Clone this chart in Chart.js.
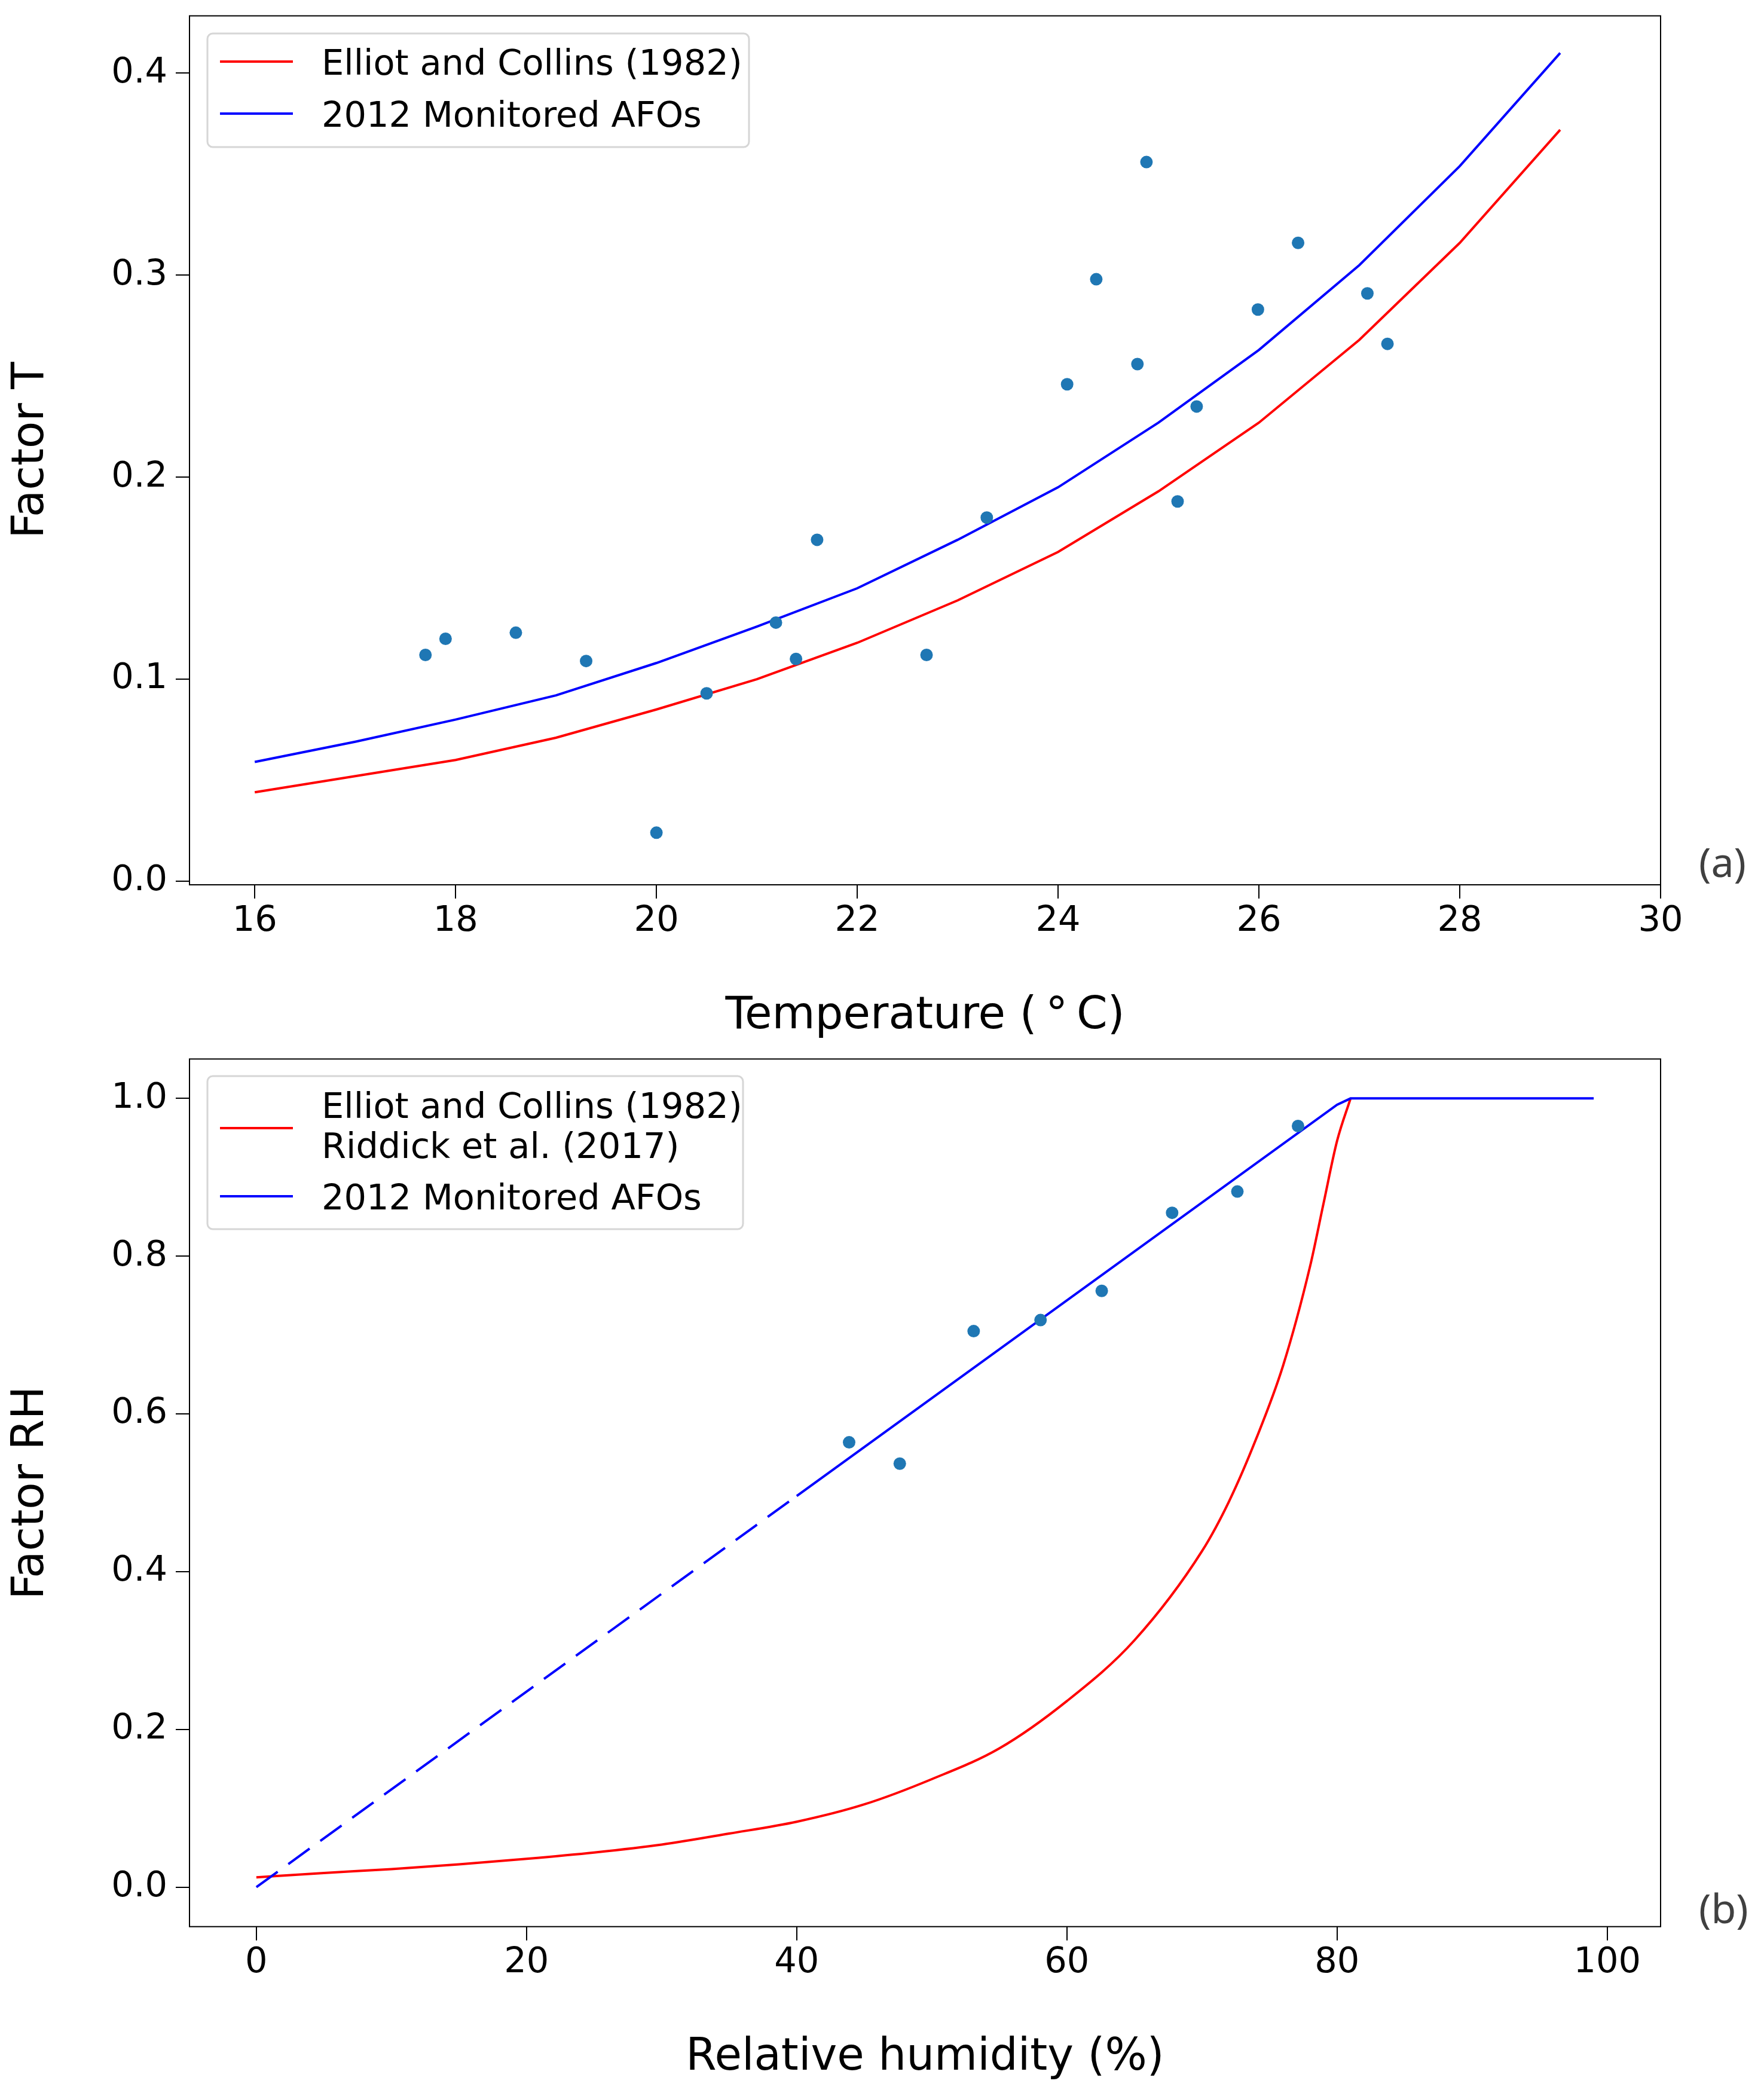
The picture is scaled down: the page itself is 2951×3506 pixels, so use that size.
<!DOCTYPE html>
<html lang="en">
<head>
<meta charset="UTF-8">
<title>Factor T and Factor RH</title>
<script src="https://cdn.jsdelivr.net/npm/chart.js"></script>
<style>
  body { margin: 0; background: #fff; }
  canvas { display: block; }
</style>
</head>
<body>
<canvas id="chartT" width="2951" height="1753"></canvas>
<canvas id="chartRH" width="2951" height="1753"></canvas>
<script>
// (a) temperature factor
const tempC = [16, 17, 18, 19, 20, 21, 22, 23, 24, 25, 26, 27, 28, 29];
const factorTElliot = [0.044, 0.052, 0.060, 0.071, 0.085, 0.100, 0.118, 0.139, 0.163, 0.193, 0.227, 0.268, 0.316, 0.372];
const factorTAFO = [0.059, 0.069, 0.080, 0.092, 0.108, 0.126, 0.145, 0.169, 0.195, 0.227, 0.263, 0.305, 0.354, 0.410];
const obsTemp = [17.70, 17.90, 18.60, 19.30, 20.00, 20.50, 21.19, 21.39, 21.60, 22.69, 23.29, 24.09, 24.38, 24.79, 24.88, 25.19, 25.38, 25.99, 26.39, 27.08, 27.28];
const obsFactorT = [0.112, 0.120, 0.123, 0.109, 0.024, 0.093, 0.128, 0.110, 0.169, 0.112, 0.180, 0.246, 0.298, 0.256, 0.356, 0.188, 0.235, 0.283, 0.316, 0.291, 0.266];
const tempTicks = [16, 18, 20, 22, 24, 26, 28, 30];
const factorTTicks = [0.0, 0.1, 0.2, 0.3, 0.4];

// (b) relative humidity factor
const rhElliot = [0, 5, 10, 15, 20, 25, 30, 35, 40, 45, 50, 55, 60, 65, 70, 72, 74, 76, 78, 79, 80, 81];
const factorRHElliot = [0.0125, 0.018, 0.023, 0.029, 0.036, 0.044, 0.054, 0.068, 0.083, 0.105, 0.137, 0.176, 0.236, 0.313, 0.426, 0.489, 0.568, 0.661, 0.787, 0.867, 0.946, 1.0];
const rhFitExtrap = [0, 40];
const factorRHFitExtrap = [0.0, 0.496];
const rhFit = [40, 80, 81, 99];
const factorRHFit = [0.496, 0.992, 1.0, 1.0];
const obsRH = [43.88, 47.63, 53.10, 58.05, 62.58, 67.79, 72.62, 77.11];
const obsFactorRH = [0.564, 0.537, 0.705, 0.719, 0.756, 0.855, 0.882, 0.965];
const rhTicks = [0, 20, 40, 60, 80, 100];
const factorRHTicks = [0.0, 0.2, 0.4, 0.6, 0.8, 1.0];

const FONT = 'DejaVu Sans';
const pts = (xs, ys) => xs.map((x, i) => ({ x: x, y: ys[i] }));

// spines, matplotlib-like legend and panel letter
const panelDecor = {
  id: 'panelDecor',
  afterDraw(chart, args, o) {
    const ctx = chart.ctx;
    const a = chart.chartArea;
    ctx.save();
    ctx.strokeStyle = '#000';
    ctx.lineWidth = 2;
    ctx.strokeRect(a.left, a.top, a.right - a.left, a.bottom - a.top);

    const b = o.box;
    ctx.beginPath();
    ctx.roundRect(b.x, b.y, b.w, b.h, 9);
    ctx.fillStyle = 'rgba(255,255,255,0.8)';
    ctx.fill();
    ctx.strokeStyle = '#d6d6d6';
    ctx.lineWidth = 3;
    ctx.stroke();

    ctx.font = '59px "' + FONT + '"';
    ctx.textBaseline = 'alphabetic';
    ctx.textAlign = 'left';
    o.entries.forEach(e => {
      ctx.strokeStyle = e.color;
      ctx.lineWidth = 4;
      ctx.beginPath();
      ctx.moveTo(368, e.lineY);
      ctx.lineTo(490, e.lineY);
      ctx.stroke();
      ctx.fillStyle = '#000';
      e.lines.forEach((t, i) => ctx.fillText(t, 538, e.baseY + i * 67));
    });

    ctx.font = '68px "Noto Sans"';
    ctx.fillStyle = '#404040';
    ctx.fillText(o.letter.text, o.letter.x, o.letter.y);
    ctx.restore();
  }
};

function axis(min, max, tickVals, fmt, size, title, titlePad, tickPad) {
  return {
    type: 'linear',
    min: min,
    max: max,
    afterBuildTicks: s => { s.ticks = tickVals.map(v => ({ value: v })); },
    afterFit: s => {
      if (s.isHorizontal()) s.height = size; else s.width = size;
      // chart area is fixed by layout padding, not by label overhang
      s.paddingTop = 0; s.paddingBottom = 0; s.paddingLeft = 0; s.paddingRight = 0;
    },
    grid: { drawOnChartArea: false, drawTicks: true, tickLength: 23, lineWidth: 2, color: '#000' },
    border: { display: false },
    ticks: { color: '#000', padding: tickPad, font: { family: FONT, size: 59 }, callback: fmt },
    title: { display: true, text: title, color: '#000', font: { family: FONT, size: 74 }, padding: titlePad }
  };
}

function curve(xs, ys, color, dash) {
  return {
    type: 'line', data: pts(xs, ys), borderColor: color, borderWidth: 4,
    borderDash: dash || [], pointRadius: 0, fill: false, showLine: true, tension: 0
  };
}

function scatter(xs, ys) {
  return {
    type: 'scatter', data: pts(xs, ys), backgroundColor: '#1f77b4',
    pointRadius: 10.5, borderWidth: 0, pointHoverRadius: 10.5
  };
}

new Chart(document.getElementById('chartT'), {
  type: 'scatter',
  data: {
    datasets: [
      scatter(obsTemp, obsFactorT),
      curve(tempC, factorTAFO, '#0000ff'),
      curve(tempC, factorTElliot, '#ff0000')
    ]
  },
  options: {
    responsive: false,
    devicePixelRatio: 1,
    animation: false,
    layout: { padding: { left: 0, top: 26.5, right: 173, bottom: 0 } },
    scales: {
      x: axis(15.35, 30, tempTicks, v => v, 273, 'Temperature (\u2009\u00b0\u2009C)', { top: 0, bottom: 8 }, 3),
      y: axis(-0.0018, 0.4284, factorTTicks, v => v.toFixed(1), 317, 'Factor T', { top: 8, bottom: 0 }, 14)
    },
    plugins: {
      legend: { display: false },
      tooltip: { enabled: false },
      panelDecor: {
        box: { x: 347, y: 56, w: 906, h: 190 },
        entries: [
          { color: '#ff0000', lineY: 103, baseY: 125, lines: ['Elliot and Collins (1982)'] },
          { color: '#0000ff', lineY: 190, baseY: 212, lines: ['2012 Monitored AFOs'] }
        ],
        letter: { text: '(a)', x: 2842, y: 1467 }
      }
    }
  },
  plugins: [panelDecor]
});

new Chart(document.getElementById('chartRH'), {
  type: 'scatter',
  data: {
    datasets: [
      scatter(obsRH, obsFactorRH),
      curve(rhFit, factorRHFit, '#0000ff'),
      curve(rhFitExtrap, factorRHFitExtrap, '#0000ff', [44, 22]),
      Object.assign(curve(rhElliot, factorRHElliot, '#ff0000'), { cubicInterpolationMode: 'monotone' })
    ]
  },
  options: {
    responsive: false,
    devicePixelRatio: 1,
    animation: false,
    layout: { padding: { left: 0, top: 18.4, right: 173, bottom: 0 } },
    scales: {
      x: axis(-4.95, 103.95, rhTicks, v => v, 283.3, 'Relative humidity (%)', { top: 0, bottom: 19 }, 3),
      y: axis(-0.05, 1.05, factorRHTicks, v => v.toFixed(1), 317, 'Factor RH', { top: 8, bottom: 0 }, 14)
    },
    plugins: {
      legend: { display: false },
      tooltip: { enabled: false },
      panelDecor: {
        box: { x: 347, y: 47, w: 896, h: 256 },
        entries: [
          { color: '#ff0000', lineY: 134, baseY: 117, lines: ['Elliot and Collins (1982)', 'Riddick et al. (2017)'] },
          { color: '#0000ff', lineY: 248, baseY: 270, lines: ['2012 Monitored AFOs'] }
        ],
        letter: { text: '(b)', x: 2842, y: 1464 }
      }
    }
  },
  plugins: [panelDecor]
});
</script>
</body>
</html>
